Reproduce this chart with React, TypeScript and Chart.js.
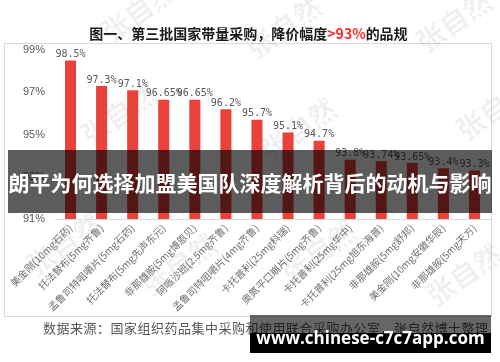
import React, { useEffect, useRef } from "react";
import { Chart, registerables } from "chart.js";

Chart.register(...registerables);

const categories: string[] = [
  "美金刚(10mg石药)",
  "托法替布(5mg齐鲁)",
  "孟鲁司特咀嚼片(5mg石药)",
  "托法替布(5mg先声东元)",
  "非那雄胺(5mg博恩贝)",
  "阿哌沙班(2.5mg齐鲁)",
  "孟鲁司特咀嚼片(4mg齐鲁)",
  "卡托普利(25mg科瑞)",
  "奥氮平口崩片(5mg齐鲁)",
  "卡托普利(25mg华中)",
  "卡托普利(25mg旭东海普)",
  "非那雄胺(5mg舒邦)",
  "美金刚(10mg安徽华辰)",
  "非那雄胺(5mg天方)",
];

const priceCuts: number[] = [98.5, 97.3, 97.1, 96.65, 96.65, 96.2, 95.7, 95.1, 94.7, 93.8, 93.74, 93.65, 93.4, 93.3];

const yMin = 91;
const yMax = 99;
const yStep = 2;

const titleMain = "图一、第三批国家带量采购，降价幅度";
const titleRed = ">93%";
const titleEnd = "的品规";
const sourceText = "数据来源：国家组织药品集中采购和使用联合采购办公室，张自然博士整理";
const bannerText = "朗平为何选择加盟美国队深度解析背后的动机与影响";
const urlText = "www.chinese-c7c7app.com";
const watermark = "张自然";

const watermarkSpots: [number, number][] = [
  [95, 22],
  [240, 38],
  [410, 32],
  [75, 125],
  [255, 140],
  [450, 120],
  [20, 255],
  [135, 275],
  [275, 262],
  [420, 285],
];

const CJK = "'Noto Sans CJK SC', 'Noto Sans', sans-serif";

export default function App() {
  const canvasRef = useRef<HTMLCanvasElement | null>(null);

  useEffect(() => {
    if (!canvasRef.current) return;
    const valueLabels = {
      id: "valueLabels",
      afterDatasetsDraw(chart: any) {
        const ctx = chart.ctx;
        const meta = chart.getDatasetMeta(0);
        ctx.save();
        ctx.font = "10px 'DejaVu Sans Mono', 'Liberation Mono', monospace";
        ctx.fillStyle = "#595959";
        ctx.textAlign = "center";
        ctx.textBaseline = "bottom";
        meta.data.forEach((el: any, i: number) => {
          ctx.fillText(String(priceCuts[i]) + "%", el.x, el.y - 1);
        });
        ctx.restore();
      },
    };

    const chart = new Chart(canvasRef.current, {
      type: "bar",
      data: {
        labels: categories,
        datasets: [
          {
            data: priceCuts,
            backgroundColor: "#E8423A",
            borderWidth: 0,
            barPercentage: 0.355,
            categoryPercentage: 1,
          },
        ],
      },
      options: {
        responsive: false,
        animation: false,
        layout: { padding: { left: 4, right: 10, top: 50, bottom: 46 } },
        plugins: {
          legend: { display: false },
          tooltip: { enabled: false },
          title: { display: false },
        },
        scales: {
          x: {
            grid: { display: false, drawTicks: false },
            border: { display: true, color: "#d9d9d9", width: 1 },
            ticks: {
              autoSkip: false,
              minRotation: 45,
              maxRotation: 45,
              padding: 3,
              color: "#6f6f6f",
              font: { size: 10, family: CJK },
            },
            afterFit: (scale: any) => {
              scale.height = 97;
            },
          },
          y: {
            min: yMin,
            max: yMax,
            grid: { display: false, drawTicks: false },
            border: { display: false },
            ticks: {
              stepSize: yStep,
              padding: 10,
              color: "#595959",
              font: { size: 11, family: "'Liberation Sans', Arial, sans-serif" },
              callback: (v: any) => v + "%",
            },
            afterFit: (scale: any) => {
              scale.width = 51;
            },
          },
        },
      },
      plugins: [valueLabels],
    });
    return () => chart.destroy();
  }, []);

  return (
    <div
      style={{
        position: "absolute",
        left: 0,
        top: 0,
        width: 500,
        height: 362,
        background: "#ffffff",
        overflow: "hidden",
        fontFamily: CJK,
      }}
    >
      <div
        style={{
          position: "absolute",
          left: 4,
          top: 43,
          width: 488,
          height: 274,
          border: "1px solid #d9d9d9",
          boxSizing: "border-box",
        }}
      />
      {watermarkSpots.map(([x, y], i) => (
        <div
          key={i}
          style={{
            position: "absolute",
            left: x,
            top: y,
            fontSize: 28,
            fontWeight: 700,
            color: "rgba(0,0,0,0.06)",
            transform: "rotate(-35deg)",
            transformOrigin: "left top",
            whiteSpace: "nowrap",
            lineHeight: "30px",
          }}
        >
          {watermark}
        </div>
      ))}
      <canvas
        ref={canvasRef}
        width={500}
        height={362}
        style={{ position: "absolute", left: 0, top: 0, width: 500, height: 362 }}
      />
      <div
        style={{
          position: "absolute",
          left: 0,
          top: 23,
          width: 497,
          textAlign: "center",
          fontSize: 14,
          fontWeight: 700,
          lineHeight: "20px",
          color: "#1a1a1a",
          whiteSpace: "nowrap",
        }}
      >
        {titleMain}
        <span style={{ color: "#FF2A2A" }}>{titleRed}</span>
        {titleEnd}
      </div>
      <div
        style={{
          position: "absolute",
          left: 43,
          top: 319,
          fontSize: 13,
          letterSpacing: 0.5,
          lineHeight: "18px",
          color: "#555555",
          whiteSpace: "nowrap",
        }}
      >
        {sourceText}
      </div>
      <div
        style={{
          position: "absolute",
          left: 8,
          top: 150,
          width: 484,
          height: 63,
          background: "rgba(0,0,0,0.64)",
          color: "#ffffff",
          fontSize: 21,
          fontWeight: 700,
          display: "flex",
          alignItems: "center",
          justifyContent: "center",
          whiteSpace: "nowrap",
        }}
      >
        {bannerText}
      </div>
      <div
        style={{
          position: "absolute",
          left: 250,
          top: 315,
          width: 241,
          height: 38,
          background: "linear-gradient(to bottom, rgba(0,0,0,0.6) 0%, rgba(0,0,0,0.6) 47%, #000 47%, #000 100%)",
          color: "#ffffff",
          fontFamily: "'Open Sans', 'Noto Sans', sans-serif",
          fontWeight: 700,
          fontSize: 17,
          lineHeight: "22px",
          textAlign: "center",
          whiteSpace: "nowrap",
        }}
      >
        <div style={{ position: "absolute", left: 0, right: 0, top: 12 }}>{urlText}</div>
      </div>
    </div>
  );
}
